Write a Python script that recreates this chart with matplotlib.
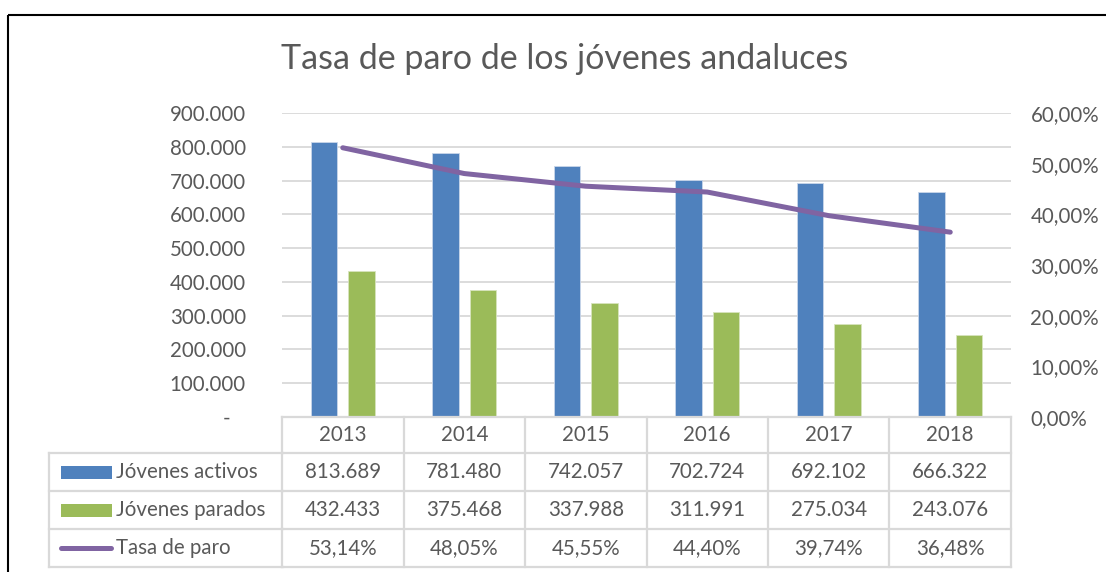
import numpy as np
import matplotlib.pyplot as plt
import matplotlib.transforms as mtransforms
from matplotlib.patches import Rectangle
from matplotlib.lines import Line2D

# data
years = ["2013", "2014", "2015", "2016", "2017", "2018"]
activos = [813689, 781480, 742057, 702724, 692102, 666322]
parados = [432433, 375468, 337988, 311991, 275034, 243076]
tasa = [53.14, 48.05, 45.55, 44.40, 39.74, 36.48]
series_names = ["Jóvenes activos", "Jóvenes parados", "Tasa de paro"]

BLUE = "#4F81BD"
GREEN = "#9BBB59"
PURPLE = "#8064A2"
GRID = "#D9D9D9"
TXT = "#595959"
FS = 14.8

plt.rcParams['font.family'] = ['Lato', 'DejaVu Sans']

W, H = 1106, 572
fig = plt.figure(figsize=(W / 100, H / 100), dpi=100)
# pixel coords, origin top-left
px = mtransforms.Affine2D().scale(1 / W, -1 / H).translate(0, 1) + fig.transFigure

ax = fig.add_axes([282 / W, (H - 417) / H, 729 / W, 304 / H])
x = np.arange(len(years))
ax.bar(x - 0.155, activos, width=0.22, color=BLUE, edgecolor="#C9D6EA", linewidth=0.6, zorder=2)
ax.bar(x + 0.155, parados, width=0.22, color=GREEN, edgecolor="#D7E4BD", linewidth=0.6, zorder=2)
ax.set_xlim(-0.5, len(years) - 0.5)
ax.set_ylim(0, 900000)
ax.set_yticks(range(0, 900001, 100000))
ax.set_yticklabels(["-   "] + [f"{v:,}".replace(",", ".") for v in range(100000, 900001, 100000)])
ax.set_xticks([])
ax.yaxis.grid(True, color=GRID, lw=1.3, zorder=0)
ax.set_axisbelow(True)
ax.tick_params(axis="y", length=0, pad=26, labelsize=FS, labelcolor=TXT)
for s in ax.spines.values():
    s.set_visible(False)

ax2 = ax.twinx()
ax2.plot(x, tasa, color=PURPLE, lw=3.6, solid_capstyle="round", solid_joinstyle="round", zorder=3)
ax2.set_ylim(0, 60)
ax2.set_yticks(range(0, 61, 10))
ax2.set_yticklabels([f"{v:.2f}%".replace(".", ",") for v in range(0, 61, 10)])
ax2.tick_params(axis="y", length=0, pad=14, labelsize=FS, labelcolor=TXT)
for s in ax2.spines.values():
    s.set_visible(False)

fig.text(565 / W, 1 - 59 / H, "Tasa de paro de los jóvenes andaluces", ha="center", va="center",
         fontsize=24.5, color=TXT)

# data table under the axes
colx = mtransforms.blended_transform_factory(ax.transData, px)
rows = [417, 453, 491, 529, 567]
label_left = 49
tlw = 1.6
edges = np.arange(len(years) + 1) - 0.5
for i, yy in enumerate(rows):
    fig.add_artist(Line2D([edges[0], edges[-1]], [yy, yy], transform=colx, color=GRID, lw=tlw))
    if i > 0:
        fig.add_artist(Line2D([label_left, 283], [yy, yy], transform=px, color=GRID, lw=tlw))
for e in edges:
    fig.add_artist(Line2D([e, e], [rows[0], rows[-1]], transform=colx, color=GRID, lw=tlw))
fig.add_artist(Line2D([label_left, label_left], [rows[1], rows[-1]], transform=px, color=GRID, lw=tlw))

cells = [
    years,
    [f"{v:,}".replace(",", ".") for v in activos],
    [f"{v:,}".replace(",", ".") for v in parados],
    [f"{v:.2f}%".replace(".", ",") for v in tasa],
]
for r, vals in enumerate(cells):
    yc = (rows[r] + rows[r + 1]) / 2
    for i, t in enumerate(vals):
        fig.text(x[i], yc, t, transform=colx, ha="center", va="center", fontsize=FS, color=TXT)

# legend keys in the table
for r, (name, col) in enumerate(zip(series_names, [BLUE, GREEN, PURPLE])):
    yc = (rows[r + 1] + rows[r + 2]) / 2
    if r < 2:
        fig.add_artist(Rectangle((61, yc - 6.5), 51, 13, transform=px, color=col, lw=0))
    else:
        fig.add_artist(Line2D([61, 111], [yc, yc], transform=px, color=col, lw=3.6,
                              solid_capstyle="round"))
    fig.text(116, yc, name, transform=px, ha="left", va="center", fontsize=FS, color=TXT)

# outer frame of the chart object
fig.add_artist(Rectangle((8, 15), 1200, 700, transform=px, fill=False, edgecolor="black",
                         lw=1.5, clip_on=False))

fig.savefig("out.png", dpi=100)
